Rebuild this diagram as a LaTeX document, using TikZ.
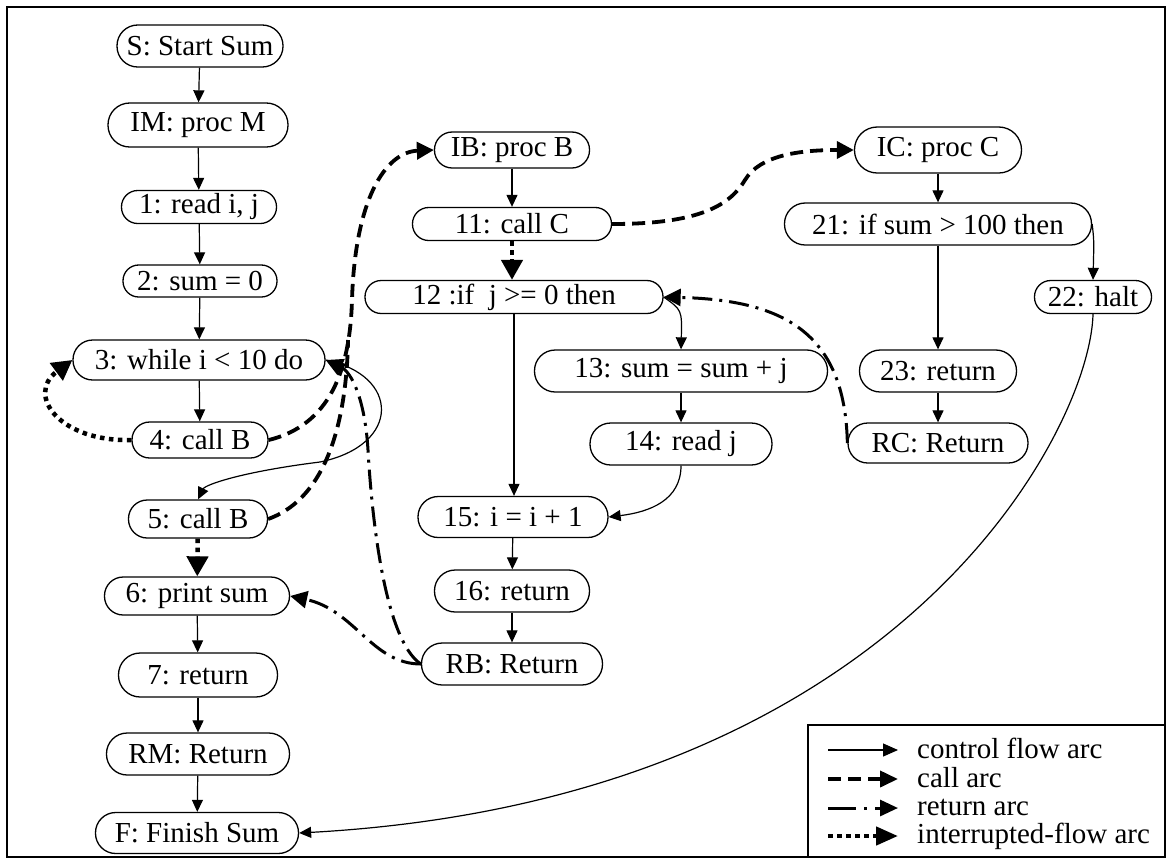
\documentclass[tikz,border=0pt]{standalone}
\usepackage{fontspec}
\setmainfont{Liberation Serif}
\usetikzlibrary{arrows.meta}
\begin{document}
\begin{tikzpicture}[x=1pt,y=-1pt,
  font=\fontsize{29}{34}\selectfont,
  stmt/.style n args={2}{draw, line width=1.3pt, rectangle, inner sep=0pt,
    minimum width=#1pt, minimum height=#2pt, rounded corners=#2pt/2-0.3pt},
  flow/.style={line width=1.2pt, -{Triangle[length=12pt,width=11pt]}},
  callarc/.style={line width=3.8pt, dash pattern=on 13pt off 7pt,
    -{Triangle[length=17pt,width=17pt]}},
  retarc/.style={line width=3pt, dash pattern=on 20pt off 7pt on 3pt off 7pt,
    -{Triangle[length=17pt,width=17pt]}},
  intarc/.style={line width=4.5pt, dash pattern=on 4.5pt off 4.5pt,
    -{Triangle[length=20pt,width=21pt]}},
  legtext/.style={anchor=base west, inner sep=0pt},
]
\useasboundingbox (0,0) rectangle (1167,860);
\draw[line width=1.6pt] (7,7) rectangle (1165,857);

% procedure M
\node[stmt={166}{42}] (S)   at (200,46)  {S: Start Sum};
\node[stmt={180}{44}] (IM)  at (198,125) {IM: proc M};
\node[stmt={155}{33}] (n1)  at (199,207) {1: read i, j};
\node[stmt={154}{32}] (n2)  at (200,281) {2: sum = 0};
\node[stmt={252}{40}] (n3)  at (199,360) {3: while i < 10 do};
\node[stmt={136}{36}] (n4)  at (200,440) {4: call B};
\node[stmt={139}{38}] (n5)  at (198,519) {5: call B};
\node[stmt={185}{38}] (n6)  at (197,596) {6: print sum};
\node[stmt={159}{44}] (n7)  at (198,675) {7: return};
\node[stmt={183}{42}] (RM)  at (198,754) {RM: Return};
\node[stmt={203}{41}] (F)   at (197,833) {F: Finish Sum};

% procedure B
\node[stmt={155}{36}] (IB)  at (512,150) {IB: proc B};
\node[stmt={199}{33}] (n11) at (512,224) {11: call C};
\node[stmt={298}{33}] (n12) at (514,297) {12 :if\ \ j >= 0 then};
\node[stmt={293}{42}] (n13) at (681,371) {13: sum = sum + j};
\node[stmt={182}{42}] (n14) at (681,444) {14: read j};
\node[stmt={190}{41}] (n15) at (513,517) {15: i = i + 1};
\node[stmt={155}{42}] (n16) at (512,591) {16: return};
\node[stmt={181}{42}] (RB)  at (512,664) {RB: Return};

% procedure C
\node[stmt={167}{46}] (IC)  at (938,150) {IC: proc C};
\node[stmt={307}{42}] (n21) at (938,224) {21: if sum > 100 then};
\node[stmt={117}{33}] (n22) at (1093,297) {22: halt};
\node[stmt={157}{42}] (n23) at (938,371) {23: return};
\node[stmt={180}{40}] (RC)  at (938,443) {RC: Return};

% control flow arcs
\draw[flow] (S) -- (IM);
\draw[flow] (IM) -- (n1);
\draw[flow] (n1) -- (n2);
\draw[flow] (n2) -- (n3);
\draw[flow] (n3) -- (n4);
\draw[flow] (n3.east) .. controls (400,375) and (402,445) .. (320,462)
  .. controls (240,472) and (205,485) .. (n5.north);
\draw[flow] (n6) -- (n7);
\draw[flow] (n7) -- (RM);
\draw[flow] (RM) -- (F);
\draw[flow] (IB) -- (n11);
\draw[flow] (n12.south) -- (n12.south |- n15.north);
\draw[flow] (n12.east) .. controls (682,310) .. (n13.north);
\draw[flow] (n13) -- (n14);
\draw[flow] (n14.south) .. controls (681,500) and (650,512) .. (n15.east);
\draw[flow] (n15) -- (n16);
\draw[flow] (n16) -- (RB);
\draw[flow] (IC) -- (n21);
\draw[flow] (n21) -- (n23);
\draw[flow] (n21.east) .. controls (1094,240) .. (n22.north);
\draw[flow] (n23) -- (RC);
\draw[flow] (n22.south) .. controls (1090,430) and (900,800) .. (F.east);

% call arcs: the arc from 5 joins the arc from 4 on its way up to IB
\coordinate (join) at (348,340);
\draw[callarc] (n4.east) .. controls (330,425) and (350,370) .. (352,300)
  .. controls (355,200) and (385,152) .. (IB.west);
\draw[callarc, -] (n5.east) .. controls (335,495) and (347,400) .. (join);
\draw[callarc] (n11.east) .. controls (700,224) and (730,205) .. (745,180)
  .. controls (760,155) and (800,150) .. (IC.west);

% return arcs
\draw[retarc] (RB.west) .. controls (385,640) and (372,520) .. (368,450)
  .. controls (365,400) and (352,372) .. (n3.east);
\draw[retarc] (RB.west) .. controls (372,664) and (355,610) .. (n6.east);
\draw[retarc] (RC.west) .. controls (845,330) and (780,300) .. (n12.east);

% interrupted-flow arcs
\draw[intarc] (n4.west) .. controls (60,442) and (25,395) .. (n3.west);
\draw[intarc] (n5) -- (n6);
\draw[intarc] (n11.south) -- (n11.south |- n12.north);

% legend
\draw[line width=1.3pt] (808,725) rectangle (1165,857);
\node[legtext] (lg1) at (917,758) {control flow arc};
\node[legtext] (lg2) at (917,787) {call arc};
\node[legtext] (lg3) at (917,815) {return arc};
\node[legtext] (lg4) at (917,843) {interrupted-flow arc};
\coordinate (a1) at (828,750); \coordinate (b1) at (898,750);
\coordinate (a2) at (828,779); \coordinate (b2) at (898,779);
\coordinate (a3) at (828,808); \coordinate (b3) at (898,808);
\coordinate (a4) at (828,836); \coordinate (b4) at (898,836);
\draw[flow, -{Triangle[length=15pt,width=13pt]}] (a1) -- (b1);
\draw[callarc, -{Triangle[length=18pt,width=16pt]}] (a2) -- (b2);
\draw[retarc, dash pattern=on 28pt off 8pt on 3pt off 8pt,
  -{Triangle[length=18pt,width=16pt]}] (a3) -- (b3);
\draw[intarc, -{Triangle[length=22pt,width=18pt]}] (a4) -- (b4);
\end{tikzpicture}
\end{document}
